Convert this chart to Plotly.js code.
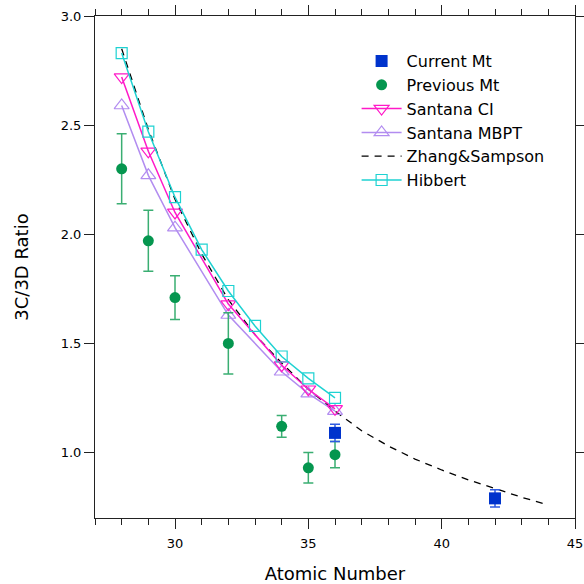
<!DOCTYPE html>
<html>
<head>
<meta charset="utf-8">
<script src="https://cdn.plot.ly/plotly-3.0.1.min.js"></script>
<style>html,body{margin:0;padding:0;background:#fff;}#chart{width:584px;height:584px;}</style>
</head>
<body>
<div id="chart"></div>
<script>
// Data
const currentZ = [36, 42];
const currentRatio = [1.09, 0.79];
const currentErr = [0.04, 0.04];

const previousZ = [28, 29, 30, 32, 34, 35, 36];
const previousRatio = [2.30, 1.97, 1.71, 1.50, 1.12, 0.93, 0.99];
const previousErr = [0.16, 0.14, 0.10, 0.14, 0.05, 0.07, 0.06];

const santanaCIZ = [28, 29, 30, 32, 34, 35, 36];
const santanaCI = [2.72, 2.38, 2.10, 1.68, 1.40, 1.29, 1.20];

const santanaMBPTZ = [28, 29, 30, 32, 34, 35, 36];
const santanaMBPT = [2.59, 2.27, 2.03, 1.63, 1.37, 1.27, 1.19];

const zhangZ = [28, 29, 30, 31, 32, 33, 34, 35, 36, 37, 38, 39, 40, 41, 42, 43, 44];
const zhang = [2.85, 2.48, 2.16, 1.91, 1.70, 1.54, 1.41, 1.29, 1.19, 1.10, 1.03, 0.97, 0.92, 0.875, 0.835, 0.795, 0.76];

const hibbertZ = [28, 29, 30, 31, 32, 33, 34, 35, 36];
const hibbert = [2.83, 2.47, 2.17, 1.93, 1.74, 1.58, 1.44, 1.34, 1.25];

const traces = [
  {
    x: zhangZ, y: zhang, name: 'Zhang&Sampson', mode: 'lines',
    line: {color: '#000000', width: 1.3, dash: '7px,6px'}, legendrank: 5
  },
  {
    x: santanaMBPTZ, y: santanaMBPT, name: 'Santana MBPT', mode: 'lines+markers',
    line: {color: '#b28cf0', width: 1.5},
    marker: {symbol: 'triangle-up-open', size: 13, color: '#b28cf0', line: {width: 1.2}},
    legendrank: 4
  },
  {
    x: santanaCIZ, y: santanaCI, name: 'Santana CI', mode: 'lines+markers',
    line: {color: '#ff19c8', width: 1.5},
    marker: {symbol: 'triangle-down-open', size: 13, color: '#ff19c8', line: {width: 1.2}},
    legendrank: 3
  },
  {
    x: hibbertZ, y: hibbert, name: 'Hibbert', mode: 'lines+markers',
    line: {color: '#1ed2d2', width: 1.5},
    marker: {symbol: 'square-open', size: 11, color: '#1ed2d2', line: {width: 1.2}},
    legendrank: 6
  },
  {
    x: previousZ, y: previousRatio, name: 'Previous Mt', mode: 'markers',
    marker: {symbol: 'circle', size: 11, color: '#05964f'},
    error_y: {type: 'data', array: previousErr, visible: true, color: '#3aae72', thickness: 1.5, width: 5},
    legendrank: 2
  },
  {
    x: currentZ, y: currentRatio, name: 'Current Mt', mode: 'markers',
    marker: {symbol: 'square', size: 12, color: '#0033cc'},
    error_y: {type: 'data', array: currentErr, visible: true, color: '#2e5ae0', thickness: 1.5, width: 5},
    legendrank: 1
  }
];

const fontFam = 'DejaVu Sans, sans-serif';
const layout = {
  width: 584, height: 584,
  margin: {l: 95, r: 9, t: 16, b: 66},
  paper_bgcolor: '#ffffff', plot_bgcolor: '#ffffff',
  font: {family: fontFam, color: '#000', size: 13},
  showlegend: true,
  legend: {
    x: 0.545, y: 0.944, xanchor: 'left', yanchor: 'top',
    font: {family: fontFam, size: 16, color: '#000'},
    bgcolor: 'rgba(0,0,0,0)', tracegroupgap: 0, itemwidth: 40
  },
  xaxis: {
    range: [27, 45], showgrid: false, zeroline: false,
    showline: true, linecolor: '#222', linewidth: 1, mirror: 'ticks',
    ticks: 'outside', ticklen: 10, tickwidth: 1, tickcolor: '#222',
    tick0: 0, dtick: 5, ticklabelstandoff: 3,
    minor: {dtick: 1, ticks: 'outside', ticklen: 6, tickwidth: 1, tickcolor: '#222', showgrid: false},
    tickfont: {family: fontFam, size: 13},
    title: {text: 'Atomic Number', font: {family: fontFam, size: 18}, standoff: 17}
  },
  yaxis: {
    range: [0.7, 3.0], showgrid: false, zeroline: false,
    showline: true, linecolor: '#222', linewidth: 1, mirror: 'ticks',
    ticks: 'outside', ticklen: 10, tickwidth: 1, tickcolor: '#222',
    tick0: 0, dtick: 0.5, tickformat: '.1f',
    tickfont: {family: fontFam, size: 13},
    title: {text: '3C/3D Ratio', font: {family: fontFam, size: 18}, standoff: 27}
  }
};

Plotly.newPlot('chart', traces, layout, {displayModeBar: false, staticPlot: true});
</script>
</body>
</html>
